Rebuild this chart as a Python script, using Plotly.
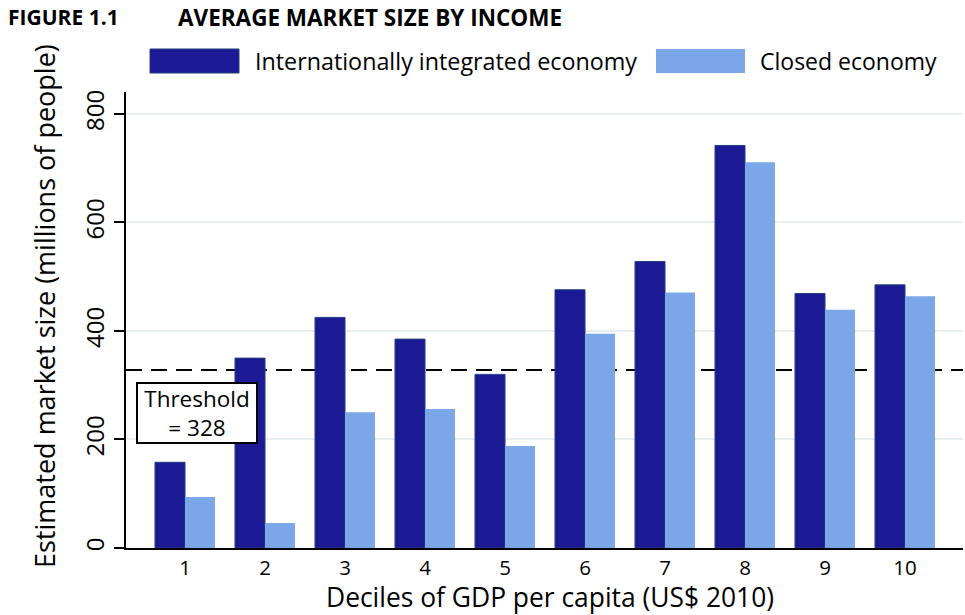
import plotly.graph_objects as go

deciles = [1, 2, 3, 4, 5, 6, 7, 8, 9, 10]
integrated = [158, 350, 425, 385, 320, 476, 528, 742, 469, 485]
closed = [94, 46, 250, 256, 188, 395, 471, 711, 439, 464]
threshold = 328
y_ticks = [0, 200, 400, 600, 800]

W, H = 965, 615
PL, PR, PT, PB = 126, 963, 92, 548          # plot area in pixels
L, R, T, B = PL, W - PR, PT, H - PB
PW, PH = PR - PL, PB - PT

def px(x):
    return (x - PL) / PW

def py(y):
    return (PB - y) / PH

FONT = "Open Sans"
DARK = "#1b1994"
LIGHT = "#7ba6e7"

fig = go.Figure()
fig.add_trace(go.Bar(x=deciles, y=integrated, name="Internationally integrated economy",
                     marker=dict(color=DARK, line=dict(color="#22407a", width=1))))
fig.add_trace(go.Bar(x=deciles, y=closed, name="Closed economy",
                     marker=dict(color=LIGHT, line=dict(color=LIGHT, width=0))))

fig.add_shape(type="line", xref="paper", x0=0, x1=1, yref="y", y0=threshold, y1=threshold,
              line=dict(color="black", width=2, dash="16px,9px"), layer="between")

# legend (manual)
fig.add_shape(type="rect", xref="paper", yref="paper", x0=px(150), x1=px(239), y0=py(73), y1=py(49),
              fillcolor=DARK, line=dict(color="#22407a", width=1))
fig.add_shape(type="rect", xref="paper", yref="paper", x0=px(656), x1=px(745), y0=py(73), y1=py(49),
              fillcolor=LIGHT, line=dict(width=0))

ann = []
ann.append(dict(text="Internationally integrated economy", x=px(253), y=py(61), xref="paper", yref="paper",
                xanchor="left", yanchor="middle", showarrow=False, font=dict(family=FONT, size=23.3, color="black")))
ann.append(dict(text="Closed economy", x=px(758), y=py(61), xref="paper", yref="paper",
                xanchor="left", yanchor="middle", showarrow=False, font=dict(family=FONT, size=23, color="black")))
ann.append(dict(text="<b>FIGURE 1.1</b>", x=px(6), y=py(17), xref="paper", yref="paper",
                xanchor="left", yanchor="middle", showarrow=False, font=dict(family=FONT, size=21, color="black")))
ann.append(dict(text="<b>AVERAGE MARKET SIZE BY INCOME</b>", x=px(176), y=py(17), xref="paper", yref="paper",
                xanchor="left", yanchor="middle", showarrow=False, font=dict(family=FONT, size=22.5, color="black")))
ann.append(dict(text="Deciles of GDP per capita (US$ 2010)", x=px(550), y=py(597), xref="paper", yref="paper",
                xanchor="center", yanchor="middle", showarrow=False, font=dict(family=FONT, size=26.4, color="black")))
ann.append(dict(text="Estimated market size (millions of people)", x=px(44), y=py(306), xref="paper", yref="paper",
                xanchor="center", yanchor="middle", textangle=-90, showarrow=False,
                font=dict(family=FONT, size=27, color="black")))
ann.append(dict(text="Threshold<br>= " + str(threshold), x=1.146, y=249, xref="x", yref="y",
                xanchor="center", yanchor="middle", showarrow=False, bgcolor="white",
                bordercolor="black", borderwidth=2, borderpad=1, width=116, height=56,
                align="center", valign="middle",
                font=dict(family=FONT, size=22.5, color="black")))

fig.update_layout(
    width=W, height=H, margin=dict(l=L, r=R, t=T, b=B, pad=0, autoexpand=False),
    paper_bgcolor="white", plot_bgcolor="white",
    barmode="group", bargap=0.25, bargroupgap=0,
    showlegend=False, annotations=ann,
    font=dict(family=FONT, color="black"),
)
fig.update_xaxes(range=[0.2625, 10.725], tickvals=deciles, ticktext=[str(d) for d in deciles],
                 showgrid=False, ticks="", showline=True, linecolor="black", linewidth=2,
                 tickfont=dict(family=FONT, size=20.5, color="black"), zeroline=False, automargin=False)
fig.update_yaxes(range=[0, 840.5], tickvals=y_ticks, ticktext=[str(v) for v in y_ticks],
                 showgrid=True, gridcolor="#e6eef2", gridwidth=1.5,
                 ticks="outside", ticklen=10, tickwidth=1.5, tickcolor="black",
                 showline=True, linecolor="black", linewidth=2, zeroline=False, automargin=False,
                 tickangle=-90, tickfont=dict(family=FONT, size=24, color="black"))

fig.write_html("out.html", config={"displayModeBar": False},
               post_script="document.body.style.margin='0';document.body.style.overflow='hidden';")
